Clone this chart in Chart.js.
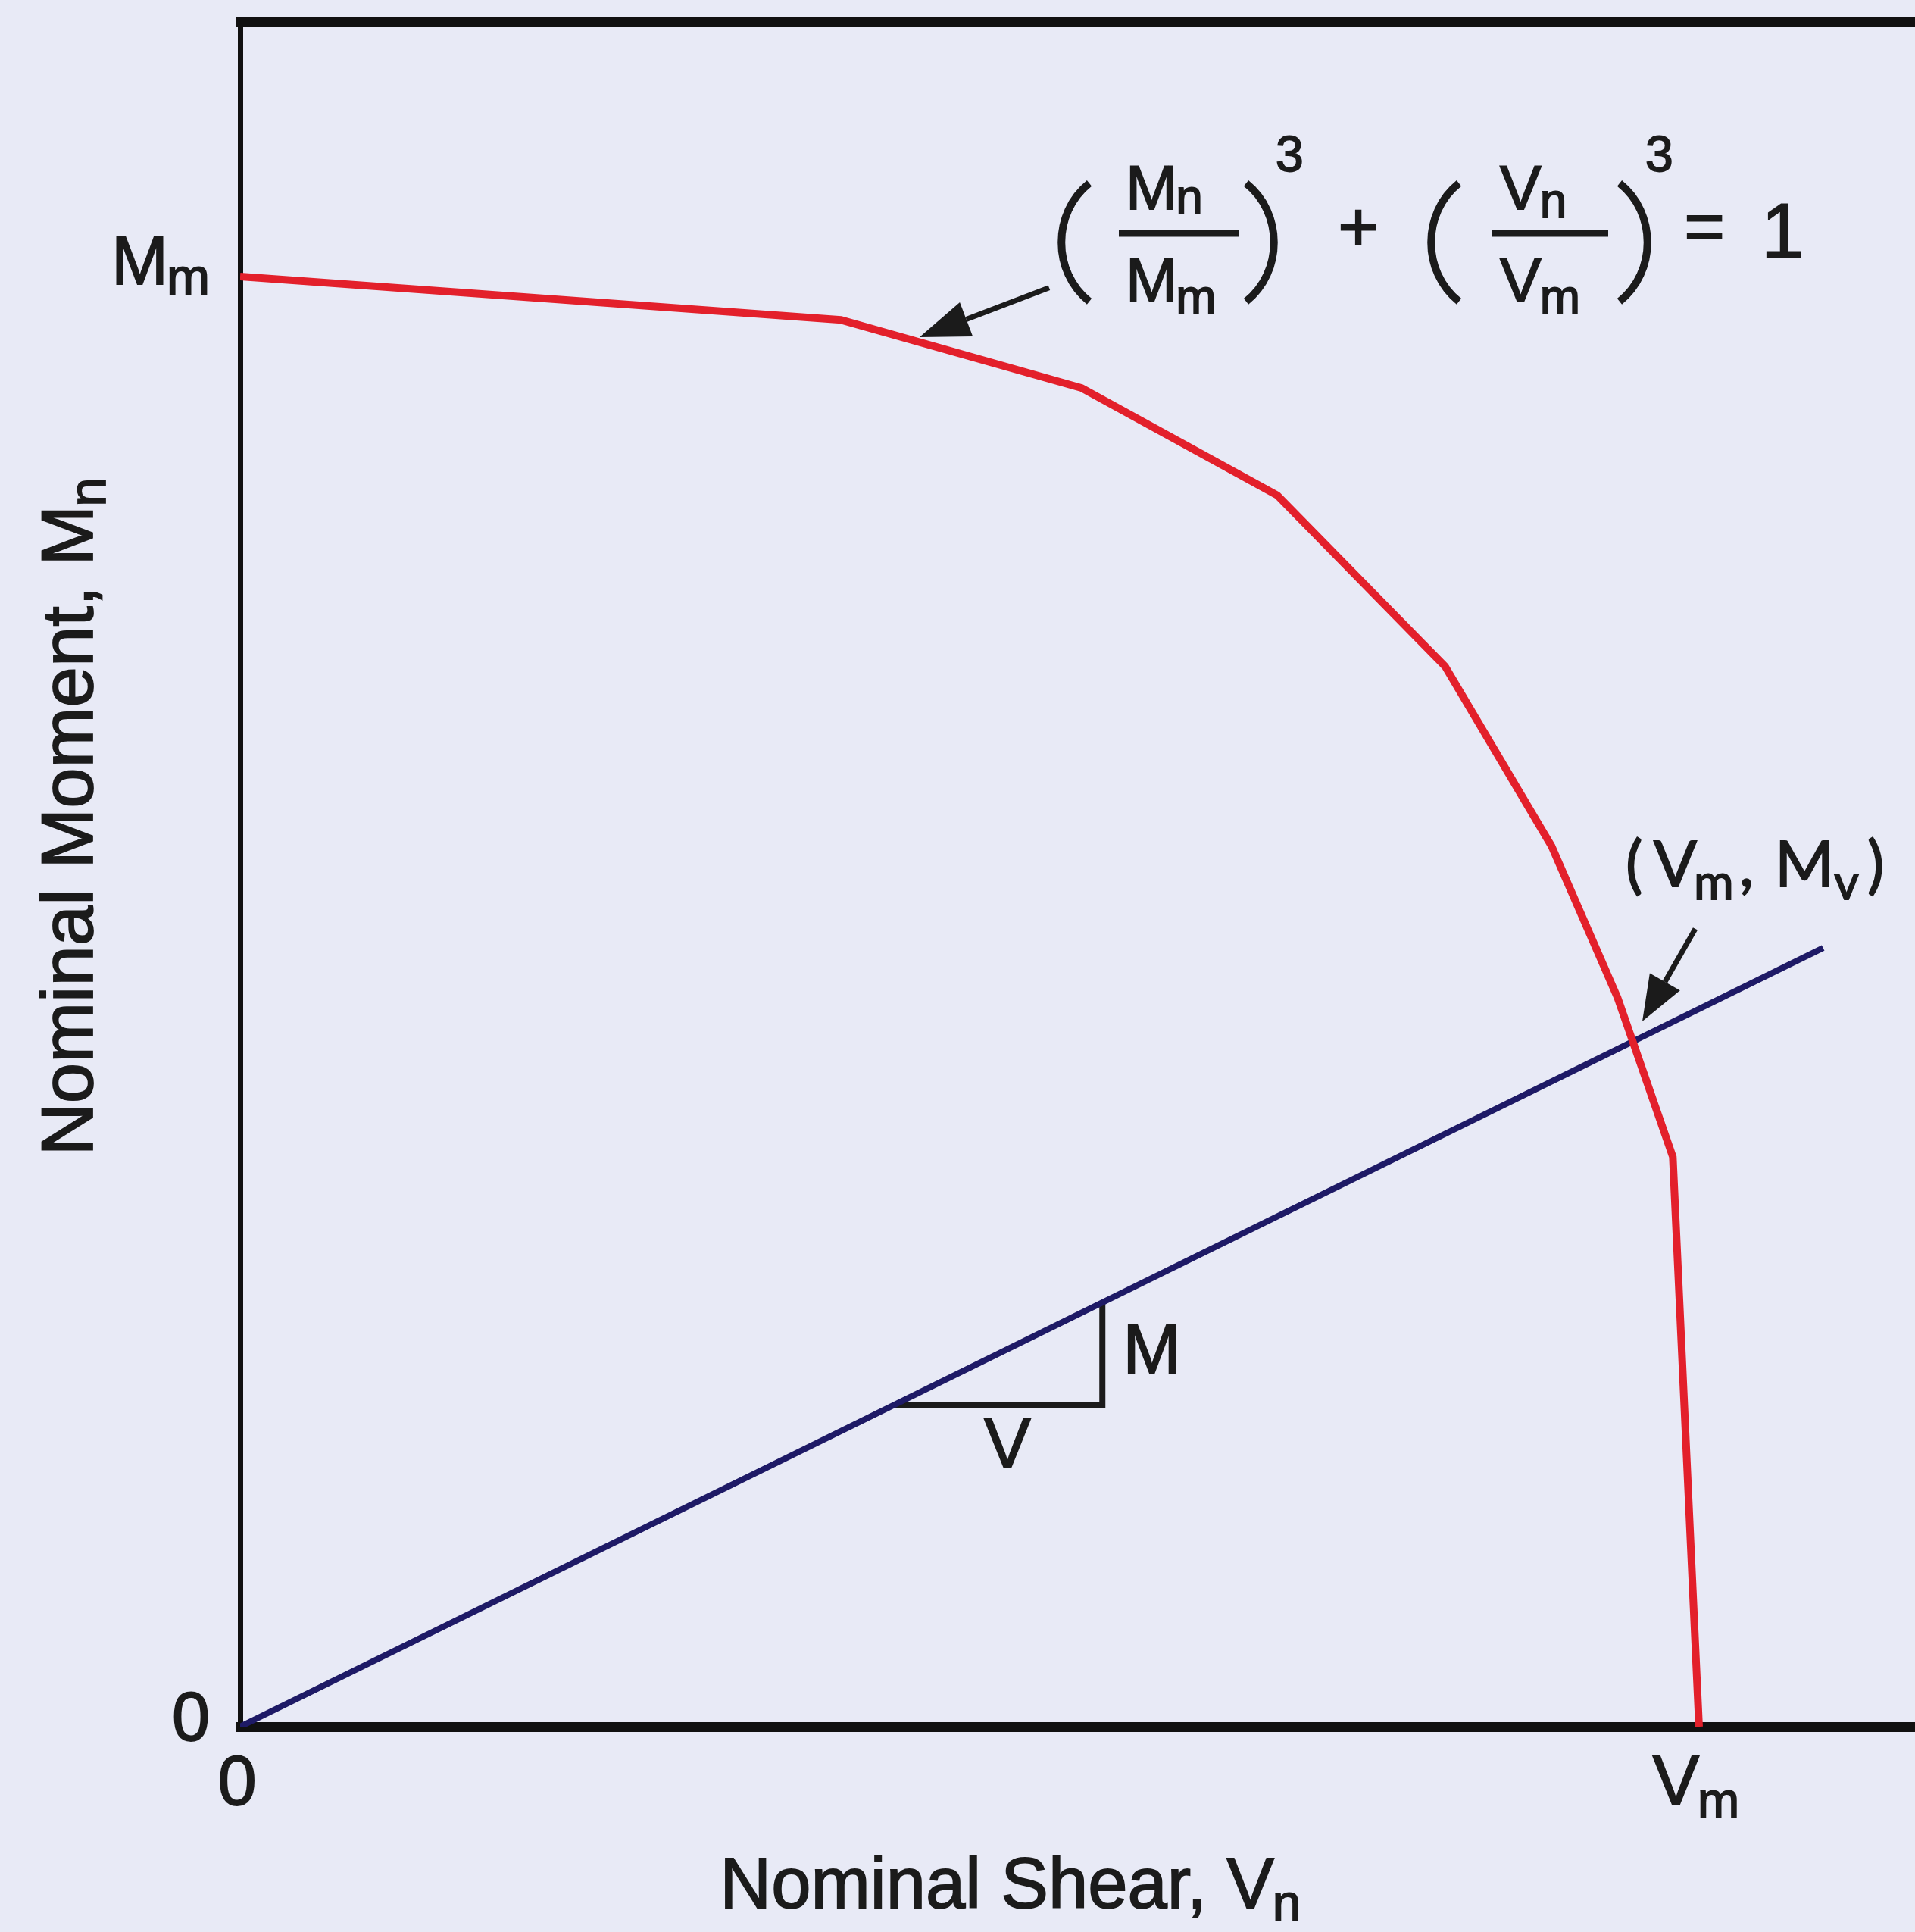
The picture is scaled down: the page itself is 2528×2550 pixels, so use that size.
<!DOCTYPE html>
<html>
<head>
<meta charset="utf-8">
<script src="https://cdn.jsdelivr.net/npm/chart.js@4.4.1/dist/chart.umd.min.js"></script>
<style>
  html, body { margin: 0; padding: 0; background: #E8EAF6; }
  canvas { display: block; }
</style>
</head>
<body>
<canvas id="grafico" width="2528" height="2550"></canvas>
<script>
// ── Data, normalised: V/Vm on x, M/Mm on y ─────
const interShear  = [0, 0.412, 0.577, 0.711, 0.826, 0.899, 0.944, 0.982, 1.0];
const interMoment = [1.0, 0.970, 0.923, 0.849, 0.731, 0.607, 0.503, 0.393, 0];

const loadShear   = [0, 1.085];
const loadMoment  = [0, 0.537];

const slopeShear  = [0.448, 0.591, 0.591];
const slopeMoment = [0.2218, 0.2218, 0.2927];

const xTicks      = [0, 1];
const xTickLabels = [['0', ''], ['V', 'm']];
const yTicks      = [0, 1];
const yTickLabels = [['0', ''], ['M', 'm']];

const FONT  = '"Liberation Sans", Arial, sans-serif';
const FONT2 = 'Lato, "Open Sans", sans-serif';
const INK   = '#1b1b1b';
const RED   = '#E3202B';
const NAVY  = '#1E1A66';

const pts = (xs, ys) => xs.map((v, i) => ({ x: v, y: ys[i] }));

// filled + lightly stroked text, the scan looks a bit heavy
function txt(ctx, t, x, y) {
  ctx.fillStyle = INK;
  ctx.strokeStyle = INK;
  ctx.lineWidth = 1.8;
  ctx.fillText(t, x, y);
  ctx.strokeText(t, x, y);
}

// text with a subscript
function sub(ctx, main, s, x, y, size, align, opt = {}) {
  const scale = opt.scale ?? 0.72, drop = opt.drop ?? 0.17, gap = opt.gap ?? -2;
  const fam = opt.font || FONT;
  ctx.font = `${size}px ${fam}`;
  const w1 = ctx.measureText(main).width;
  ctx.font = `${size * scale}px ${fam}`;
  const w2 = s ? ctx.measureText(s).width + gap : 0;
  const total = w1 + w2;
  const x0 = align === 'center' ? x - total / 2 : align === 'right' ? x - total : x;
  ctx.textAlign = 'left';
  ctx.textBaseline = 'alphabetic';
  ctx.font = `${size}px ${fam}`;
  txt(ctx, main, x0, y);
  if (s) {
    ctx.font = `${size * scale}px ${fam}`;
    txt(ctx, s, x0 + w1 + gap, y + size * drop);
  }
}

// tall bracket as a stroked curve; dir = 1 for "(", -1 for ")"
function paren(ctx, dir, cx, cy, h) {
  const half = h / 2, end = 18 * dir, bulge = -31 * dir;
  ctx.save();
  ctx.strokeStyle = INK;
  ctx.lineWidth = 10;
  ctx.lineCap = 'butt';
  ctx.beginPath();
  ctx.moveTo(cx + end, cy - half);
  ctx.bezierCurveTo(cx + bulge, cy - half * 0.5, cx + bulge, cy + half * 0.5, cx + end, cy + half);
  ctx.stroke();
  ctx.restore();
}

function arrow(ctx, x1, y1, x2, y2, len, half, w) {
  const a = Math.atan2(y2 - y1, x2 - x1);
  const bx = x2 - len * Math.cos(a), by = y2 - len * Math.sin(a);
  ctx.beginPath();
  ctx.moveTo(x1, y1);
  ctx.lineTo(bx, by);
  ctx.lineWidth = w;
  ctx.strokeStyle = INK;
  ctx.stroke();
  ctx.beginPath();
  ctx.moveTo(x2, y2);
  ctx.lineTo(bx + half * Math.sin(a), by - half * Math.cos(a));
  ctx.lineTo(bx - half * Math.sin(a), by + half * Math.cos(a));
  ctx.closePath();
  ctx.fillStyle = INK;
  ctx.fill();
}

const fondo = {
  id: 'fondo',
  beforeDraw(chart) {
    const c = chart.ctx;
    c.save();
    c.fillStyle = '#E8EAF6';
    c.fillRect(0, 0, chart.width, chart.height);
    c.restore();
  }
};

const anotaciones = {
  id: 'anotaciones',
  afterDraw(chart) {
    const ctx = chart.ctx;
    const xs = chart.scales.x, ys = chart.scales.y;
    const px = v => xs.getPixelForValue(v);
    const py = v => ys.getPixelForValue(v);
    const area = chart.chartArea;
    ctx.save();

    // tick labels
    xTicks.forEach((t, i) => sub(ctx, xTickLabels[i][0], xTickLabels[i][1], px(t) - 4, py(0) + 103, 92, 'center', { scale: 0.72, drop: 0.18 }));
    yTicks.forEach((t, i) => sub(ctx, yTickLabels[i][0], yTickLabels[i][1], area.left - 40, py(t) + (t === 0 ? 18 : 10), 90, 'right', { scale: 0.76, drop: 0.16 }));

    // axis titles
    sub(ctx, 'Nominal Shear, V', 'n', px(0.528), py(0) + 239, 94, 'center', { scale: 0.72, drop: 0.18 });
    ctx.save();
    ctx.translate(area.left - 195, py(0.6275));
    ctx.rotate(-Math.PI / 2);
    sub(ctx, 'Nominal Moment, M', 'n', 0, 0, 96, 'center', { scale: 0.72, drop: 0.18 });
    ctx.restore();

    // equation (Mn/Mm)^3 + (Vn/Vm)^3 = 1
    const ax = px(0.5727), ay = py(1.0298);
    const fr = 82;
    const ph = 156, pc = ay + 12;
    paren(ctx, 1, ax, pc, ph);
    sub(ctx, 'M', 'n', ax + 66, ay - 32, fr, 'left', { scale: 0.78, drop: 0.08 });
    sub(ctx, 'M', 'm', ax + 66, ay + 90, fr, 'left', { scale: 0.78, drop: 0.2 });
    paren(ctx, -1, ax + 243, pc, ph);
    paren(ctx, 1, ax + 488, pc, ph);
    sub(ctx, 'V', 'n', ax + 560, ay - 32, fr, 'left', { scale: 0.78, drop: 0.14 });
    sub(ctx, 'V', 'm', ax + 560, ay + 90, fr, 'left', { scale: 0.78, drop: 0.2 });
    paren(ctx, -1, ax + 736, pc, ph);
    ctx.lineWidth = 9;
    ctx.strokeStyle = INK;
    ctx.beginPath();
    ctx.moveTo(ax + 57, ay); ctx.lineTo(ax + 215, ay);
    ctx.moveTo(ax + 549, ay); ctx.lineTo(ax + 703, ay);
    ctx.stroke();
    ctx.textBaseline = 'alphabetic';
    ctx.textAlign = 'left';
    ctx.font = `66px ${FONT}`;
    txt(ctx, '3', ax + 264, ay - 82);
    txt(ctx, '3', ax + 752, ay - 82);
    ctx.font = `92px ${FONT}`;
    ctx.textAlign = 'center';
    ctx.textBaseline = 'middle';
    txt(ctx, '+', ax + 373, ay - 2);
    txt(ctx, '=', ax + 830, ay - 2);
    ctx.textAlign = 'left';
    ctx.textBaseline = 'alphabetic';
    ctx.font = `102px ${FONT}`;
    txt(ctx, '1', ax + 905, ay + 32);

    arrow(ctx, px(0.5545), py(0.9922), px(0.4657), py(0.9582), 66, 24, 7);
    arrow(ctx, px(0.9974), py(0.5502), px(0.9611), py(0.4864), 60, 23, 7);

    // (Vm, Mv)
    const lx = px(0.9497), ly = py(0.5794);
    const big = `84px ${FONT2}`, small = `64px ${FONT2}`;
    ctx.textAlign = 'left';
    ctx.textBaseline = 'alphabetic';
    [['(', 0, 0, big], ['V', 37, 0, big], ['m', 90, 17, small], [',', 150, 0, big],
     ['M', 197, 0, big], ['v', 275, 17, small], [')', 319, 0, big]].forEach(([t, dx, dy, f]) => {
      ctx.font = f;
      txt(ctx, t, lx + dx, ly + dy);
    });

    // slope triangle labels
    ctx.font = `92px ${FONT}`;
    ctx.textAlign = 'left';
    txt(ctx, 'M', px(0.6050), py(0.2440));
    ctx.textAlign = 'center';
    txt(ctx, 'V', px(0.5260), py(0.1771) - 3);

    ctx.restore();
  }
};

const ejeOculto = {
  ticks: { display: false },
  grid: { display: false, drawTicks: false, tickLength: 0 }
};

new Chart(document.getElementById('grafico'), {
  type: 'scatter',
  data: {
    datasets: [
      {
        label: 'Interaction',
        data: pts(interShear, interMoment),
        showLine: true,
        borderColor: RED,
        borderWidth: 10,
        borderJoinStyle: 'round',
        pointRadius: 0,
        order: 0
      },
      {
        label: 'Load line',
        data: pts(loadShear, loadMoment),
        showLine: true,
        borderColor: NAVY,
        borderWidth: 8,
        pointRadius: 0,
        order: 1
      },
      {
        label: 'Slope',
        data: pts(slopeShear, slopeMoment),
        showLine: true,
        borderColor: INK,
        borderWidth: 8,
        borderJoinStyle: 'miter',
        pointRadius: 0,
        order: 2
      }
    ]
  },
  options: {
    responsive: false,
    devicePixelRatio: 1,
    animation: false,
    layout: { padding: { left: 317, right: 0, top: 29, bottom: 271 } },
    plugins: { legend: { display: false }, tooltip: { enabled: false } },
    scales: {
      x: { type: 'linear', position: 'bottom', min: 0, max: 1.148, ...ejeOculto,
           border: { display: true, color: '#111', width: 13 } },
      xTop: { type: 'linear', position: 'top', min: 0, max: 1.148, ...ejeOculto,
              border: { display: true, color: '#111', width: 13 } },
      y: { type: 'linear', position: 'left', min: 0, max: 1.1755, ...ejeOculto,
           border: { display: true, color: '#111', width: 7 } }
    }
  },
  plugins: [fondo, anotaciones]
});
</script>
</body>
</html>
